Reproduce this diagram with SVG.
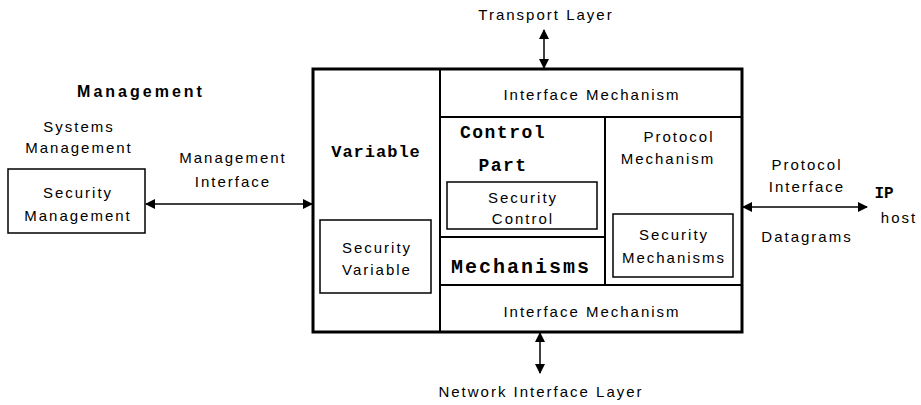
<svg xmlns="http://www.w3.org/2000/svg" width="921" height="405" viewBox="0 0 921 405">
<defs>
<marker id="ah" viewBox="0 0 10 10" refX="9" refY="5" markerWidth="10" markerHeight="10" markerUnits="userSpaceOnUse" orient="auto-start-reverse">
<path d="M0,0 L10,5 L0,10 z" fill="#000"/>
</marker>
<style>
.t{font-family:"Liberation Sans",Arial,sans-serif;font-size:15px;letter-spacing:2px;fill:#000;text-anchor:middle}
.b{font-family:"Liberation Mono","Courier New",monospace;font-weight:bold;fill:#000;text-anchor:middle}
.box{fill:none;stroke:#000;stroke-width:1.5}
.thick{fill:none;stroke:#000;stroke-width:3}
.div{fill:none;stroke:#000;stroke-width:2}
.c{fill:none;stroke:#000;stroke-width:1.5;marker-start:url(#ah);marker-end:url(#ah)}
</style>
</defs>
<rect width="921" height="405" fill="#fff"/>

<g id="labels">
<text x="141" y="97" style="font-family:'Liberation Sans',Arial,sans-serif;font-weight:bold;font-size:16px;letter-spacing:3px;fill:#000;text-anchor:middle">Management</text>
<text class="t" x="79" y="132">Systems</text>
<text class="t" x="79" y="153">Management</text>
<text class="t" x="233" y="163">Management</text>
<text class="t" x="233" y="187">Interface</text>
<text class="t" x="546" y="20">Transport Layer</text>
<text class="t" x="541" y="397">Network Interface Layer</text>
<text class="t" x="807" y="170">Protocol</text>
<text class="t" x="807" y="192">Interface</text>
<text class="t" x="807" y="242">Datagrams</text>
<text class="b" x="884" y="198" style="font-size:16px">IP</text>
<text class="t" x="899" y="223">host</text>
</g>

<g id="security-management">
<rect class="box" x="8" y="169" width="137" height="64"/>
<text class="t" x="78" y="198">Security</text>
<text class="t" x="78" y="221">Management</text>
</g>

<g id="main-box">
<rect class="thick" x="313" y="69" width="429" height="263"/>
</g>

<g id="variable">
<line class="div" x1="440" y1="69" x2="440" y2="332"/>
<text class="b" x="376" y="157" style="font-size:17px;letter-spacing:1px">Variable</text>
</g>

<g id="security-variable">
<rect class="box" x="320" y="220" width="111" height="73"/>
<text class="t" x="377" y="253">Security</text>
<text class="t" x="377" y="275">Variable</text>
</g>

<g id="interface-mechanism-top">
<line class="div" x1="440" y1="117" x2="742" y2="117"/>
<text class="t" x="592" y="100">Interface Mechanism</text>
</g>

<g id="control-part">
<rect class="div" x="440" y="117" width="165" height="120"/>
<text class="b" x="503" y="138" style="font-size:18px;letter-spacing:1.5px">Control</text>
<text class="b" x="503" y="171" style="font-size:18px;letter-spacing:1.5px">Part</text>
</g>

<g id="security-control">
<rect class="box" x="447" y="182" width="150" height="47"/>
<text class="t" x="523" y="203">Security</text>
<text class="t" x="523" y="224">Control</text>
</g>

<g id="mechanisms">
<line class="div" x1="440" y1="285" x2="742" y2="285"/>
<text class="b" x="521" y="273" style="font-size:20px;letter-spacing:2px">Mechanisms</text>
</g>

<g id="protocol-mechanism">
<line class="div" x1="605" y1="117" x2="605" y2="285"/>
<text class="t" x="679" y="142">Protocol</text>
<text class="t" x="668" y="164">Mechanism</text>
</g>

<g id="security-mechanisms">
<rect class="box" x="613" y="214" width="120" height="63"/>
<text class="t" x="674" y="240">Security</text>
<text class="t" x="674" y="263">Mechanisms</text>
</g>

<g id="interface-mechanism-bottom">
<text class="t" x="592" y="317">Interface Mechanism</text>
</g>

<g id="connectors">
<line class="c" x1="146" y1="204" x2="312" y2="204"/>
<line class="c" x1="743" y1="207" x2="867" y2="207"/>
<line class="c" x1="544" y1="30" x2="544" y2="68"/>
<line class="c" x1="540" y1="333" x2="540" y2="373"/>
</g>
</svg>
